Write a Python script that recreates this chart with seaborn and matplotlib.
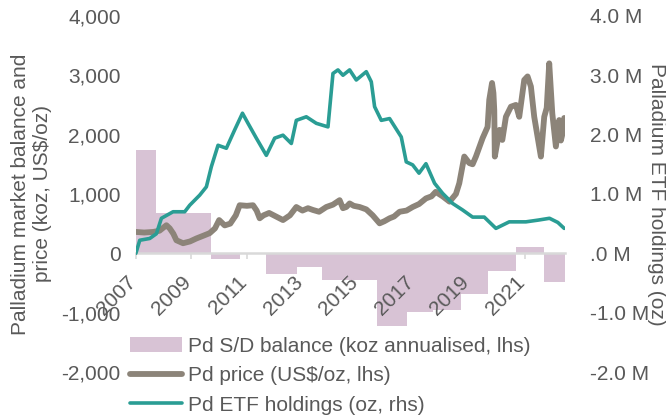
import matplotlib
matplotlib.use("Agg")
from matplotlib import pyplot as plt
from matplotlib.patches import Patch
from matplotlib.lines import Line2D
from matplotlib.transforms import offset_copy
import seaborn as sns
import pandas as pd

# S/D balance bars (koz annualised), each bar spans [start, end)
bar_start = [2007.0, 2007.72, 2009.72, 2010.75, 2011.7, 2012.8, 2013.7, 2015.7,
             2016.75, 2017.7, 2018.7, 2019.7, 2020.7, 2021.7]
bar_end = [2007.72, 2009.72, 2010.75, 2011.7, 2012.8, 2013.7, 2015.7, 2016.75,
           2017.7, 2018.7, 2019.7, 2020.7, 2021.7, 2022.45]
balance_koz = [1740, 680, -100, 0, -345, -230, -455, -1230, -990, -950, -680,
               -290, 105, -485]

# Pd price (US$/oz)
price_year = [2007.0, 2007.3, 2007.62, 2007.85, 2008.1, 2008.22, 2008.35, 2008.46,
              2008.7, 2008.95, 2009.18, 2009.45, 2009.66, 2009.85, 2010.0, 2010.2,
              2010.4, 2010.6, 2010.74, 2011.0, 2011.22, 2011.35, 2011.46, 2011.6,
              2011.8, 2012.05, 2012.3, 2012.55, 2012.78, 2013.0, 2013.2, 2013.38,
              2013.6, 2013.86, 2014.1, 2014.34, 2014.46, 2014.58, 2014.7, 2014.85,
              2015.06, 2015.3, 2015.53, 2015.78, 2015.95, 2016.14, 2016.3, 2016.5,
              2016.75, 2016.97, 2017.2, 2017.45, 2017.65, 2017.8, 2018.05, 2018.3,
              2018.53, 2018.65, 2018.83, 2019.01, 2019.13, 2019.25, 2019.49, 2019.67,
              2019.73, 2019.83, 2019.88, 2019.91, 2019.93, 2020.1, 2020.2, 2020.33,
              2020.51, 2020.69, 2020.81, 2020.99, 2021.11, 2021.23, 2021.35, 2021.47,
              2021.59, 2021.71, 2021.8, 2021.89, 2022.0, 2022.13, 2022.25, 2022.31,
              2022.37, 2022.43]
price_usd = [360, 350, 360, 380, 473, 420, 330, 220,
             170, 200, 250, 300, 340, 420, 560, 470,
             500, 640, 810, 800, 810, 720, 590, 640,
             680, 620, 560, 640, 780, 720, 760, 730,
             700, 780, 820, 895, 760, 780, 840, 800,
             780, 740, 640, 505, 540, 590, 620, 700,
             720, 780, 830, 925, 960, 1035, 960, 870,
             1000, 1180, 1630, 1520, 1500, 1630, 1940, 2130,
             2585, 2870, 2700, 2415, 1630, 2080, 1910, 2300,
             2470, 2500, 2300, 2920, 2980, 2810, 2300, 1965,
             1630, 2300, 2450, 3200, 2360, 1800, 2245, 1900,
             2020, 2280]

# Pd ETF holdings (million oz)
etf_year = [2007.0, 2007.14, 2007.5, 2007.74, 2007.92, 2008.34, 2008.76, 2008.94,
            2009.3, 2009.54, 2009.72, 2009.96, 2010.26, 2010.56, 2010.84, 2011.04,
            2011.34, 2011.7, 2012.0, 2012.3, 2012.6, 2012.78, 2013.14, 2013.5,
            2013.92, 2014.1, 2014.28, 2014.46, 2014.7, 2014.94, 2015.3, 2015.48,
            2015.6, 2015.84, 2016.14, 2016.56, 2016.74, 2016.97, 2017.2, 2017.45,
            2017.76, 2018.05, 2018.41, 2018.77, 2019.13, 2019.55, 2019.97, 2020.45,
            2021.05, 2021.5, 2021.9, 2022.2, 2022.43]
etf_moz = [0.0, 0.22, 0.25, 0.33, 0.59, 0.70, 0.70, 0.81,
           0.98, 1.12, 1.46, 1.82, 1.77, 2.08, 2.36, 2.19,
           1.94, 1.65, 1.94, 1.99, 1.85, 2.24, 2.30, 2.19,
           2.13, 3.03, 3.09, 3.00, 3.09, 2.92, 3.06, 2.89,
           2.47, 2.24, 2.27, 1.96, 1.54, 1.49, 1.35, 1.51,
           1.18, 1.01, 0.84, 0.73, 0.61, 0.61, 0.42, 0.53,
           0.53, 0.56, 0.59, 0.52, 0.42]

year_ticks = [2007, 2009, 2011, 2013, 2015, 2017, 2019, 2021]
left_ticks = [-2000, -1000, 0, 1000, 2000, 3000, 4000]
left_labels = ["-2,000", "-1,000", "0", "1,000", "2,000", "3,000", "4,000"]
right_ticks = [-2e6, -1e6, 0, 1e6, 2e6, 3e6, 4e6]
right_labels = ["-2.0 M", "-1.0 M", ".0 M", "1.0 M", "2.0 M", "3.0 M", "4.0 M"]

pink = "#D8C3D5"
brown = "#8C8479"
teal = "#2A9D94"
grey_text = "#595959"
fs = 15

sns.set_theme(style="white")
plt.rcParams['font.family'] = ['Liberation Sans', 'DejaVu Sans']

fig = plt.figure(figsize=(6.66, 4.18), dpi=100)
ax = fig.add_axes([0.204, 0.110, 0.644, 0.852])

widths = [e - s for s, e in zip(bar_start, bar_end)]
ax.bar(bar_start, balance_koz, width=widths, align="edge", color=pink,
       edgecolor="none", zorder=1)

price_df = pd.DataFrame({"year": price_year, "price": price_usd})
sns.lineplot(data=price_df, x="year", y="price", ax=ax, color=brown,
             linewidth=4.2, solid_capstyle="round", zorder=3)

ax2 = ax.twinx()
etf_df = pd.DataFrame({"year": etf_year, "holdings": [v * 1e6 for v in etf_moz]})
sns.lineplot(data=etf_df, x="year", y="holdings", ax=ax2, color=teal,
             linewidth=2.6, zorder=4)

# axis styling after both plots (twinx resets left ticks)
ax.set_xlim(2007, 2022.45)
ax.set_ylim(-2000, 4000)
for sp in ["top", "right", "left"]:
    ax.spines[sp].set_visible(False)
ax.spines["bottom"].set_position(("data", 0))
ax.spines["bottom"].set_color("#D9D9D9")
ax.spines["bottom"].set_linewidth(1.8)
ax.set_xticks(year_ticks)
ax.tick_params(axis="x", bottom=True, length=4, width=1.2, color="#D9D9D9",
               labelbottom=False)
ax.tick_params(axis="y", left=False, right=False, labelcolor=grey_text,
               labelsize=fs, pad=5)
ax.set_yticks(left_ticks)
ax.set_yticklabels(left_labels)
ax.set_xlabel("")
ax.set_ylabel("Palladium market balance and\nprice (koz, US$/oz)", color=grey_text,
              fontsize=fs, va="center", ha="center")
ax.yaxis.set_label_coords(-0.244, 0.5)

# diagonal year labels hanging below the zero axis
lab_tr = offset_copy(ax.transData, fig=fig, x=1, y=-30, units="dots")
for yr in year_ticks:
    ax.text(yr, 0, str(yr), transform=lab_tr, rotation=45, ha="right",
            va="baseline", rotation_mode="anchor", fontsize=fs, color=grey_text,
            clip_on=False)

ax2.set_ylim(-2e6, 4e6)
for sp in ax2.spines.values():
    sp.set_visible(False)
ax2.tick_params(axis="y", left=False, right=False, labelcolor=grey_text,
                labelsize=fs, pad=12)
ax2.set_yticks(right_ticks)
ax2.set_yticklabels(right_labels)
ax2.set_xlabel("")
ax2.set_ylabel("Palladium ETF holdings (oz)", color=grey_text, fontsize=fs,
               rotation=270, va="center", ha="center")
ax2.yaxis.set_label_coords(1.214, 0.5)

handles = [Patch(facecolor=pink, edgecolor="none"),
           Line2D([0], [0], color=brown, linewidth=4.2),
           Line2D([0], [0], color=teal, linewidth=2.6)]
labels = ["Pd S/D balance (koz annualised, lhs)", "Pd price (US$/oz, lhs)",
          "Pd ETF holdings (oz, rhs)"]
fig.legend(handles, labels, loc="upper left", bbox_to_anchor=(0.195, 0.194),
           frameon=False, fontsize=fs, labelcolor=grey_text, handlelength=2.5,
           handletextpad=0.29, labelspacing=0.5, borderpad=0, borderaxespad=0)

fig.savefig("out.png", dpi=100)
